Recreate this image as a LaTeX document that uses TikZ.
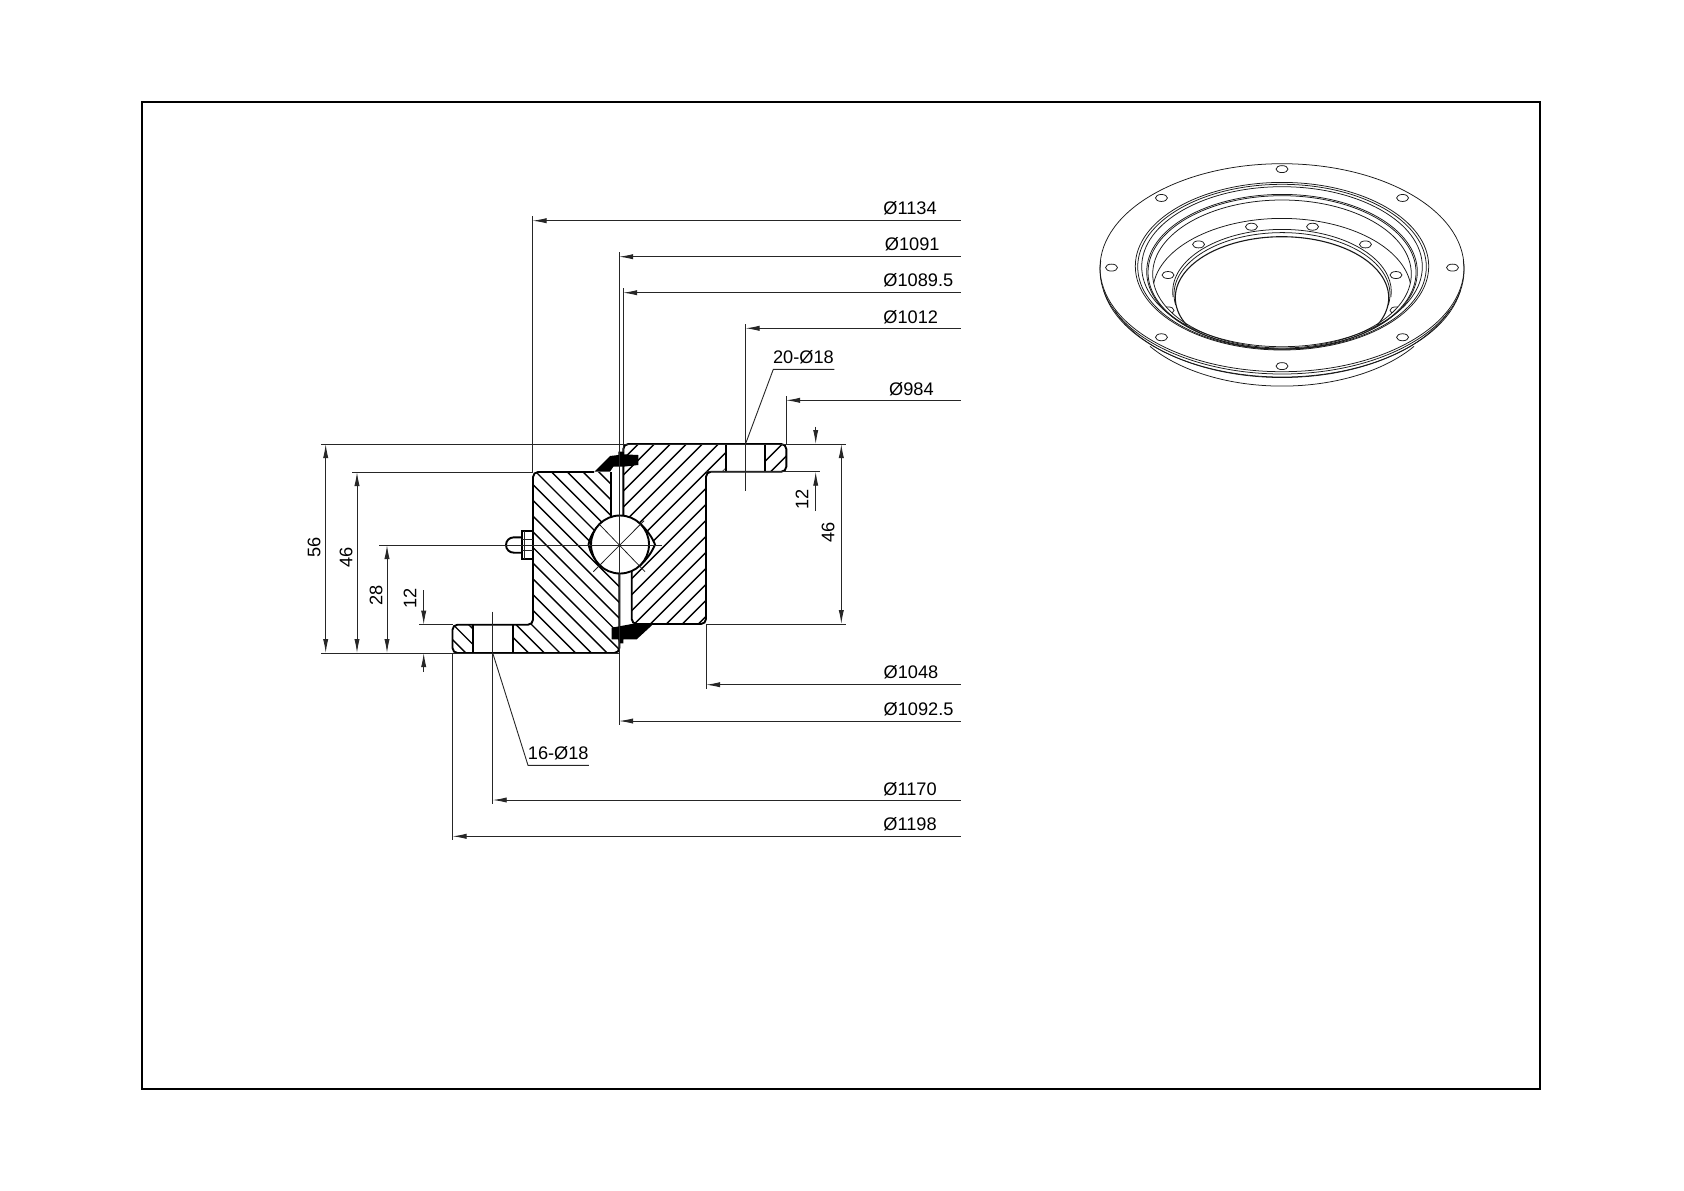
\documentclass[tikz,border=0pt]{standalone}
\usepackage{fontspec}
\setmainfont{Liberation Sans}
\usetikzlibrary{arrows.meta}
\tikzset{
  boldline/.style={line width=0.95pt, black},
  thinline/.style={line width=0.45pt, black!85},
  hatchline/.style={line width=0.7pt, black},
  viewline/.style={line width=0.38pt, black!90},
  boltline/.style={viewline, fill=white},
  dimline/.style={thinline, -{Latex[length=7pt,width=2.6pt]}},
  bothline/.style={thinline, {Latex[length=7pt,width=2.6pt]}-{Latex[length=7pt,width=2.6pt]}},
  dimtext/.style={font=\fontsize{9.1}{9.1}\selectfont, inner sep=0pt, anchor=base west},
  sidetext/.style={font=\fontsize{9.1}{9.1}\selectfont, inner sep=0pt, rotate=90}
}
\begin{document}
\begin{tikzpicture}[x=0.5pt, y=-0.5pt]
\useasboundingbox (0,0) rectangle (1684,1190);
\draw[line width=1pt] (141.7,101.7) rectangle (1540,1089);
% section hatching
\begin{scope}
  \clip[rounded corners=2.5pt] (533,472) -- (611,472) -- (611,540) -- (619.3,540) -- (619.3,653) -- (512.7,653) -- (512.7,624.7) -- (533,624.7) -- cycle
    (452.5,624.7) -- (473,624.7) -- (473,653) -- (452.5,653) -- cycle;
  \foreach \k in {-18,...,4}
    \draw[hatchline] ({79.7+15.7*\k+440},440) -- ({79.7+15.7*\k+660},660);
\end{scope}
\begin{scope}
  \clip[rounded corners=2.5pt] (623.3,444) -- (725.7,444) -- (725.7,471.7) -- (706,471.7) -- (706,624) -- (631.7,624) -- (631.7,540) -- (623.3,540) -- cycle
    (765,444) -- (786.3,444) -- (786.3,471.7) -- (765,471.7) -- cycle;
  \foreach \k in {-6,...,11}
    \draw[hatchline] ({1162.3+16*\k-440},440) -- ({1162.3+16*\k-630},630);
\end{scope}
% ball and races
\draw[boldline, fill=white] (600,524) .. controls (594,530) and (590,537) .. (588.5,544.5) .. controls (590,552) and (594,559) .. (600,565)
  -- (640.5,565) .. controls (647,559) and (652,552) .. (655,544.5) .. controls (652,537) and (647,530) .. (640.5,524) -- cycle;
\draw[boldline, fill=white] (620,544.5) circle[radius=29];
\draw[viewline] (593.3,571.7) -- (644,520.7);
\draw[viewline] (600,525) -- (645,571.7);
% ring outlines
\draw[boldline, rounded corners=2.5pt] (594,472) -- (533,472) -- (533,624.7) -- (452.5,624.7) -- (452.5,653) -- (619.3,653) -- (619.3,573.5);
\draw[boldline] (610.7,472) -- (610.7,517);
\draw[boldline, rounded corners=2.5pt] (623.3,516) -- (623.3,444) -- (786.3,444) -- (786.3,471.7) -- (706,471.7) -- (706,624) -- (631.7,624) -- (631.7,571);
\draw[boldline] (473,624.7) -- (473,653) (512.7,624.7) -- (512.7,653);
\draw[boldline] (725.7,444) -- (725.7,471.7) (765,444) -- (765,471.7);
% seals
\fill (594.3,471.7) -- (610,456) -- (618.3,455) -- (618.3,451.7) -- (623.3,451.7) -- (623.3,454.3) -- (638.3,455) -- (638.3,465) -- (623.3,466.7) -- (613.3,466.7) -- (610,471.7) -- cycle;
\fill (611.7,627.7) -- (631.7,624) -- (653.3,624) -- (636.7,639.3) -- (623.3,639.3) -- (623.3,643.3) -- (619.3,643.3) -- (618.3,639.3) -- (611.7,639.3) -- cycle;
% grease nipple
\draw[boldline] (533,530.7) -- (521.7,530.7) -- (521.7,559.3) -- (533,559.3);
\draw[thinline] (521.7,539.3) -- (533,539.3) (521.7,550.7) -- (533,550.7) (524.5,530.7) -- (524.5,559.3);
\draw[boldline] (521.7,537.3) -- (514,537.3) .. controls (509,537.3) and (506,541) .. (506,545) .. controls (506,549) and (509,552.7) .. (514,552.7) -- (521.7,552.7);
% extension lines
\draw[thinline] (321,444) -- (846,444);
\draw[thinline] (352,472) -- (533,472);
\draw[thinline] (379,545) -- (661.7,545);
\draw[thinline] (419,624.7) -- (452.5,624.7);
\draw[thinline] (321,653) -- (619,653);
\draw[thinline] (706,471.7) -- (820,471.7);
\draw[thinline] (706,624) -- (846,624);
% height dimensions
\foreach \dimname/\xd/\ya/\yb/\xt/\yt/\val in {
  hl/325.7/444/653/314/547/56,
  ml/357/472/653/346/557/46,
  al/387/545/653/376/595/28,
  hr/841.3/444/624/828/532/46}{
  \coordinate (\dimname a) at (\xd,\ya);
  \coordinate (\dimname b) at (\xd,\yb);
  \draw[bothline] (\dimname a) -- (\dimname b);
  \node[sidetext] (\dimname t) at (\xt,\yt) {\val};
}
\coordinate (fla) at (423.7,590);
\coordinate (flb) at (423.7,624.7);
\coordinate (flc) at (423.7,672);
\coordinate (fld) at (423.7,653);
\draw[dimline] (fla) -- (flb);
\draw[dimline] (flc) -- (fld);
\node[sidetext] (flt) at (410,598.7) {12};
\coordinate (fra) at (815.7,426.7);
\coordinate (frb) at (815.7,444);
\coordinate (frc) at (815.7,511);
\coordinate (frd) at (815.7,471.7);
\draw[dimline] (fra) -- (frb);
\draw[dimline] (frc) -- (frd);
\node[sidetext] (frt) at (802,499) {12};
% diameter dimensions
\foreach \dimname/\xd/\yd/\ya/\yb/\xt/\yt/\val in {
  dA/532.5/220.7/472/215.7/883/214.8/Ø1134,
  dB/619/256.7/545/252.3/884.5/250.8/Ø1091,
  dC/623/292.7/452/288.3/883/286.8/Ø1089.5,
  dD/745.5/328.3/490.7/324.3/883/323.2/Ø1012,
  dE/786/400.3/444/396/888.7/395.2/Ø984,
  dF/706/684.7/624/689/883.2/678.2/Ø1048,
  dG/619/721/545/725.3/883.2/715.8/Ø1092.5,
  dH/492.7/800/611.7/804.3/883/795.2/Ø1170,
  dI/452.5/836.3/653/840/883/830.8/Ø1198}{
  \coordinate (\dimname a) at (\xd,\ya);
  \coordinate (\dimname b) at (\xd,\yb);
  \coordinate (\dimname c) at (\xd,\yd);
  \coordinate (\dimname d) at (960.7,\yd);
  \draw[thinline] (\dimname a) -- (\dimname b);
  \draw[dimline] (\dimname d) -- (\dimname c);
  \node[dimtext] (\dimname t) at (\xt,\yt) {\val};
}
% hole leaders
\coordinate (lda) at (745.5,444);
\coordinate (ldb) at (773.3,369.3);
\coordinate (ldc) at (834.3,369.3);
\draw[thinline] (lda) -- (ldb) -- (ldc);
\node[dimtext] (ldt) at (772.7,363) {20-Ø18};
\coordinate (lua) at (492.7,653);
\coordinate (lub) at (528,765.3);
\coordinate (luc) at (588.8,765.3);
\draw[thinline] (lua) -- (lub) -- (luc);
\node[dimtext] (lut) at (527.5,759.5) {16-Ø18};
% perspective view
\foreach \a in {165,15}{
  \begin{scope}
    \clip (1282,274) ellipse[x radius=129.3, y radius=74];
    \draw[boltline] (1282,292.7) ++(\a:118 and 68.3) ellipse[x radius=6, y radius=3.5];
  \end{scope}
}
\fill[white] (1282,297.7) ellipse[x radius=106.7, y radius=61];
\draw[viewline] (1282,267.7) ellipse[x radius=182, y radius=104];
\draw[viewline] (1282,270) ++(-5:182 and 104) arc[start angle=-5, end angle=185, x radius=182, y radius=104];
\draw[viewline] (1282,273) ++(10:181 and 104) arc[start angle=10, end angle=170, x radius=181, y radius=104];
\draw[viewline] (1282,275.5) ++(20:178 and 102) arc[start angle=20, end angle=160, x radius=178, y radius=102];
\draw[viewline] (1282,294.7) ++(34.4:160 and 91.4) arc[start angle=34.4, end angle=145.6, x radius=160, y radius=91.4];
\foreach \cy/\rx/\ry in {266.2/146.7/83.8, 266.8/144.3/82.5, 266.7/140.3/80, 271.7/135.3/77.3, 272.3/134/76.6, 274/129.3/74}
  \draw[viewline] (1282,\cy) ellipse[x radius=\rx, y radius=\ry];
\draw[viewline] (1282,292.2) ++(187:129.3 and 73.8) arc[start angle=187, end angle=353, x radius=129.3, y radius=73.8];
\draw[viewline] (1282,291.7) ++(175:109.3 and 62.3) arc[start angle=175, end angle=365, x radius=109.3, y radius=62.3];
\draw[viewline] (1282,294.3) ++(170:108 and 61.7) arc[start angle=170, end angle=370, x radius=108, y radius=61.7];
\draw[viewline, line width=0.55pt] (1282,297.7) ++(153.4:106.7 and 61) arc[start angle=153.4, end angle=386.6, x radius=106.7, y radius=61];
\foreach \a in {0,45,...,315}
  \draw[boltline] (1282,267.6) ++(\a:170.5 and 98.5) ellipse[x radius=6, y radius=3.5];
\foreach \a in {195,225,255,285,315,345}
  \draw[boltline] (1282,292.7) ++(\a:118 and 68.3) ellipse[x radius=6, y radius=3.5];
\end{tikzpicture}
\end{document}
